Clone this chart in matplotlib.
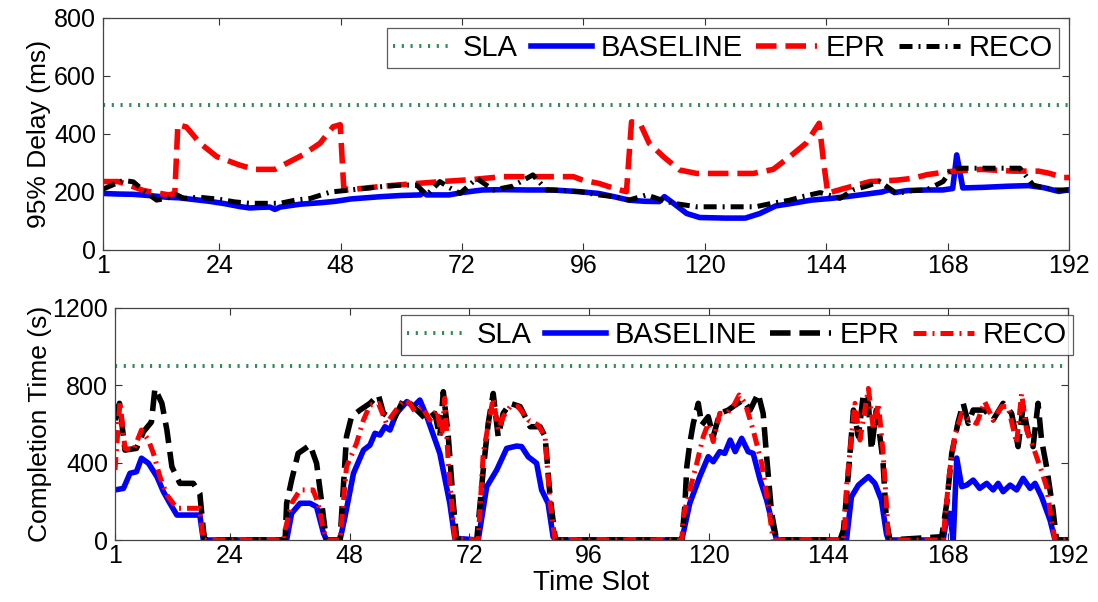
import matplotlib.pyplot as plt

plt.rcParams['font.family'] = ['Liberation Sans', 'DejaVu Sans']

# x axis: time slots 1..192
x_ticks = [1, 24, 48, 72, 96, 120, 144, 168, 192]
x_range = [1, 192]

# top panel: 95% delay (ms)
delay_sla = 500
delay_yticks = [0, 200, 400, 600, 800]
delay_baseline = [(1, 195), (4, 193), (7, 192), (10, 188), (13.6, 182), (16, 180), (19, 174), (22, 168),
                  (25, 160), (28, 150), (30, 145), (32, 147), (34, 148), (35, 140), (36, 148), (40, 158),
                  (44, 163), (47, 168), (50, 176), (53, 180), (56, 184), (60, 188), (63.8, 190), (64.1, 201),
                  (65, 190), (69.4, 190), (72, 198), (76, 207), (80, 208), (85, 207), (90, 207), (95.3, 201),
                  (99, 195), (102, 184), (105, 172), (108, 168), (111, 167), (112, 184), (113.8, 161),
                  (116.4, 126), (119, 112), (124, 110), (128, 110), (130.9, 126), (134, 152), (137, 160),
                  (141, 172), (145, 178), (148, 184), (152, 193), (155, 200), (156.5, 208), (157.5, 198),
                  (160, 205), (164, 207), (167, 207), (169, 212), (169.8, 328), (171, 214), (175, 216),
                  (180, 220), (184, 222), (187, 215), (190, 202), (192, 208)]
delay_epr = [(1, 236), (4, 236), (6, 225), (9, 205), (12, 196), (14, 190), (15.2, 195), (15.8, 432),
             (17.5, 424), (20.2, 368), (23.5, 322), (28, 293), (31, 278), (35, 278), (37.3, 299),
             (40.5, 328), (43.9, 368), (46.5, 425), (47.9, 432), (48.6, 215), (49.5, 207), (52, 212),
             (57, 221), (62, 228), (68, 236), (74, 243), (80, 253), (94, 253), (96, 240), (99, 230),
             (102, 213), (104.5, 201), (105.5, 442), (107.2, 436), (109, 368), (111.8, 322), (115, 276),
             (118.4, 264), (129.6, 264), (133.5, 278), (136.8, 322), (140, 368), (142.6, 437),
             (143.5, 300), (144.3, 196), (147.5, 212), (152.7, 236), (158, 241), (161, 247), (164, 260),
             (168, 270), (174.5, 278), (181, 272), (186, 272), (188, 265), (191, 250), (192, 250)]
delay_reco = [(1, 210), (3, 225), (5, 240), (7, 235), (9, 205), (11.6, 172), (13.5, 178), (15.6, 190),
              (17, 178), (20, 182), (24, 175), (27, 166), (30, 161), (36, 161), (39, 172), (42, 178),
              (46, 200), (50, 207), (55.8, 218), (60, 224), (63, 224), (65, 190), (67.6, 236), (69.5, 215),
              (71.6, 195), (74.9, 247), (78.2, 207), (82, 220), (86, 259), (88.7, 207), (92, 205),
              (95.3, 201), (99, 190), (102, 184), (105, 172), (108.5, 190), (111, 175), (113.8, 161),
              (118.4, 149), (130, 149), (133, 160), (136.8, 172), (139.5, 185), (142.8, 198), (146.7, 178),
              (149.3, 207), (152, 220), (154.6, 236), (157.9, 195), (161, 205), (163.8, 207), (167.1, 236),
              (168.5, 270), (170, 282), (174.4, 282), (182.3, 282), (184.9, 224), (187, 215), (189.5, 207),
              (192, 207)]

# bottom panel: completion time (s)
comp_sla = 900
comp_yticks = [0, 400, 800, 1200]
comp_baseline = [(1, 259), (2.7, 267), (4.0, 345), (5.3, 353), (6.3, 423), (7.7, 397), (9.4, 328),
                 (10.7, 250), (12.0, 190), (13.4, 129), (15.4, 129), (18.0, 129), (18.7, 0), (35.4, 0),
                 (36.4, 138), (38.1, 190), (40.1, 190), (41.4, 172), (42.8, 34), (43.4, 0), (46.1, 0),
                 (47.1, 121), (48.8, 345), (50.8, 465), (52.1, 491), (53.1, 552), (54.1, 543), (55.1, 586),
                 (56.1, 569), (57.4, 655), (59.5, 716), (60.8, 690), (62.1, 724), (63.5, 638), (66.1, 448),
                 (68.1, 190), (69.1, 9), (73.8, 0), (75.5, 276), (77.5, 362), (79.5, 474), (81.5, 486),
                 (82.5, 483), (83.8, 431), (85.5, 397), (86.5, 259), (87.8, 190), (88.8, 17), (89.3, 0),
                 (114.6, 0), (116.2, 190), (118.2, 328), (119.9, 431), (120.9, 405), (122.2, 457),
                 (123.2, 448), (124.3, 517), (125.3, 457), (126.6, 526), (127.9, 457), (128.9, 448),
                 (130.3, 310), (131.6, 207), (132.9, 69), (133.6, 0), (147.6, 0), (148.6, 224), (150.0, 284),
                 (152.0, 328), (153.3, 293), (154.6, 207), (155.6, 34), (156.0, 0), (167.0, 0), (167.7, 121),
                 (168.3, 138), (169.0, 0), (169.7, 424), (170.7, 276), (171.7, 284), (173.0, 310),
                 (174.3, 267), (175.7, 293), (177.0, 259), (178.0, 293), (179.0, 250), (180.4, 284),
                 (181.7, 259), (183.0, 319), (184.4, 267), (185.4, 293), (186.7, 224), (188.4, 103),
                 (189.4, 0), (192, 0)]
comp_epr = [(1, 620), (1.9, 707), (3.0, 465), (5.3, 474), (6.7, 560), (8.3, 610), (9.0, 784), (10.4, 707),
            (11.4, 569), (12.4, 379), (14.0, 293), (16.7, 293), (18.0, 241), (18.7, 52), (19.0, 0),
            (35.1, 0), (35.4, 190), (36.4, 310), (37.7, 448), (40.1, 491), (41.4, 397), (42.1, 259),
            (43.1, 52), (43.4, 0), (46.1, 0), (47.4, 535), (48.4, 638), (50.1, 672), (52.1, 707),
            (53.8, 750), (54.8, 655), (56.8, 621), (58.8, 724), (59.8, 716), (61.5, 672), (63.5, 621),
            (65.1, 655), (66.1, 535), (66.8, 767), (67.8, 535), (68.8, 190), (69.5, 0), (73.5, 0),
            (74.8, 362), (75.8, 603), (76.8, 758), (77.8, 535), (78.8, 655), (80.2, 707), (82.2, 690),
            (84.2, 586), (86.2, 586), (87.2, 535), (88.2, 224), (89.2, 17), (89.5, 0), (114.6, 0),
            (115.2, 172), (115.6, 379), (116.2, 500), (116.9, 603), (117.9, 707), (118.6, 595),
            (119.9, 638), (120.9, 535), (122.2, 655), (123.9, 672), (125.3, 698), (126.9, 724),
            (128.3, 672), (129.9, 758), (130.9, 655), (131.6, 431), (132.6, 138), (133.6, 0), (146.3, 0),
            (147.0, 52), (147.6, 224), (148.3, 448), (149.0, 672), (150.0, 535), (151.0, 758), (152.0, 707),
            (152.6, 465), (153.6, 672), (154.3, 535), (154.9, 414), (155.6, 103), (156.3, 0), (166.7, 17),
            (167.7, 190), (168.7, 448), (170.0, 612), (171.0, 707), (172.0, 603), (173.0, 672),
            (175.3, 672), (177.0, 621), (179.0, 707), (180.7, 655), (182.0, 483), (183.0, 690),
            (184.0, 552), (185.0, 483), (186.0, 707), (186.7, 517), (187.7, 379), (189.0, 155),
            (189.7, 0), (192, 0)]
comp_reco = [(1, 362), (2.0, 716), (3.0, 474), (4.7, 465), (6.3, 569), (7.7, 517), (8.7, 448), (10.0, 328),
             (11.4, 233), (13.4, 164), (18.0, 164), (18.4, 69), (18.7, 0), (34.8, 0), (35.1, 52),
             (36.4, 190), (38.1, 259), (40.7, 259), (41.7, 190), (42.8, 52), (43.4, 0), (46.1, 0),
             (47.4, 379), (49.4, 500), (50.8, 621), (52.1, 698), (53.8, 707), (55.4, 603), (57.1, 664),
             (58.8, 724), (60.1, 707), (61.1, 664), (62.5, 690), (64.1, 621), (65.5, 672), (66.5, 535),
             (67.1, 733), (67.8, 397), (69.1, 9), (73.8, 0), (74.8, 448), (76.1, 638), (76.8, 733),
             (77.8, 569), (78.8, 638), (80.2, 690), (81.8, 690), (83.8, 621), (85.8, 595), (87.2, 535),
             (88.2, 190), (89.2, 0), (114.6, 0), (114.9, 121), (116.2, 259), (117.6, 397), (118.9, 535),
             (119.9, 603), (120.9, 509), (122.2, 655), (123.6, 655), (124.9, 690), (126.1, 750),
             (127.3, 707), (128.9, 569), (130.6, 397), (131.9, 190), (132.9, 0), (147.0, 0), (147.3, 100),
             (147.6, 276), (148.6, 535), (149.3, 707), (150.3, 517), (152.0, 784), (153.0, 569),
             (154.0, 707), (154.9, 465), (155.6, 190), (156.0, 0), (167.0, 0), (167.3, 103), (168.3, 362),
             (169.3, 535), (170.7, 655), (172.3, 621), (173.7, 603), (175.3, 716), (177.0, 621),
             (178.7, 690), (180.0, 690), (181.7, 500), (182.7, 758), (183.7, 569), (185.0, 483),
             (186.4, 379), (187.7, 276), (188.7, 103), (189.4, 0), (192, 0)]

GREEN = '#2e8b57'
SLA_STYLE = dict(color=GREEN, lw=2.8, linestyle=(0, (0.55, 1.7)))
DASHDOT = (0, (2.6, 1.2, 0.4, 1.2))


def xy(points):
    return [p[0] for p in points], [p[1] for p in points]


def style_axes(ax, yticks, ylabel, ylabelpad):
    ax.set_xlim(x_range)
    ax.set_ylim(yticks[0], yticks[-1])
    ax.set_xticks(x_ticks)
    ax.set_yticks(yticks)
    ax.tick_params(direction='in', top=True, right=True, length=5, width=0.8,
                   labelsize=18, color='#333333')
    ax.tick_params(axis='x', pad=3)
    ax.tick_params(axis='y', pad=5)
    for s in ax.spines.values():
        s.set_color('#444444')
        s.set_linewidth(0.9)
    ax.set_ylabel(ylabel, fontsize=19, labelpad=ylabelpad)


def add_legend(fig, ax, anchor):
    leg = ax.legend(loc='upper right', bbox_to_anchor=anchor, bbox_transform=fig.transFigure,
                    ncol=4, fontsize=21, frameon=True, fancybox=False, borderaxespad=0,
                    handlelength=2.1, handletextpad=0.3, columnspacing=0.45, borderpad=0.2)
    leg.get_frame().set_edgecolor('#333333')
    leg.get_frame().set_linewidth(0.9)
    return leg


fig = plt.figure(figsize=(10.98, 6.02), dpi=100)
ax1 = fig.add_axes([103 / 1098, 1 - 250 / 602, 966 / 1098, 232 / 602])
ax2 = fig.add_axes([115 / 1098, 1 - 540 / 602, 953 / 1098, 232 / 602])

# top: delay
ax1.plot(x_range, [delay_sla, delay_sla], label='SLA', **SLA_STYLE)
x, y = xy(delay_baseline)
ax1.plot(x, y, color='#0000ff', lw=4.0, label='BASELINE')
x, y = xy(delay_epr)
ax1.plot(x, y, color='#ff0000', lw=4.0, linestyle='--', label='EPR')
x, y = xy(delay_reco)
ax1.plot(x, y, color='black', lw=3.6, linestyle=DASHDOT, label='RECO')
style_axes(ax1, delay_yticks, '95% Delay (ms)', 2)
add_legend(fig, ax1, (1059 / 1098, 1 - 28 / 602))

# bottom: completion time
ax2.plot(x_range, [comp_sla, comp_sla], label='SLA', **SLA_STYLE)
x, y = xy(comp_baseline)
ax2.plot(x, y, color='#0000ff', lw=4.0, label='BASELINE')
x, y = xy(comp_epr)
ax2.plot(x, y, color='black', lw=4.0, linestyle='--', label='EPR')
x, y = xy(comp_reco)
ax2.plot(x, y, color='#ff0000', lw=3.6, linestyle=DASHDOT, label='RECO')
style_axes(ax2, comp_yticks, 'Completion Time (s)', 0)
ax2.set_xlabel('Time Slot', fontsize=20, labelpad=1)
add_legend(fig, ax2, (1073 / 1098, 1 - 315 / 602))

fig.savefig('out.png', dpi=100)
